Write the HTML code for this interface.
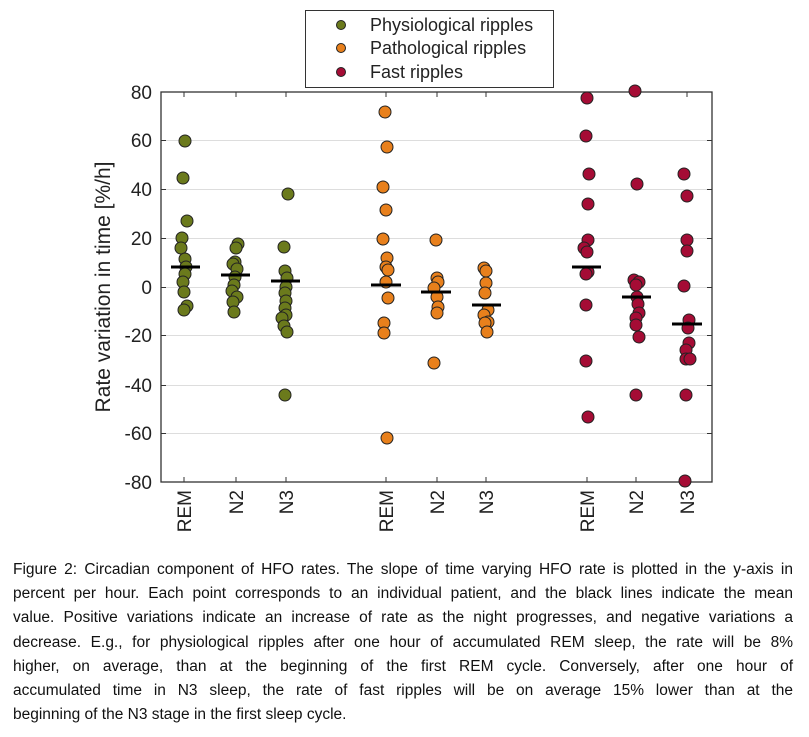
<!DOCTYPE html>
<html><head><meta charset="utf-8"><style>
body{margin:0;background:#fff;width:809px;height:737px;overflow:hidden;position:relative;font-family:"Liberation Sans",sans-serif}
.cap{position:absolute;left:13px;width:780px;top:558px;font-size:15.5px;line-height:24.2px;color:#111}
.cap div{text-align:justify;text-align-last:justify;white-space:nowrap;overflow:visible}
.cap div.l{text-align-last:left}
</style></head><body>
<svg width="809" height="560" style="position:absolute;left:0;top:0" font-family="Liberation Sans, sans-serif">
<g stroke="#ddd" stroke-width="1">
<line x1="161" x2="712" y1="140.5" y2="140.5"/><line x1="161" x2="712" y1="189.5" y2="189.5"/>
<line x1="161" x2="712" y1="238.5" y2="238.5"/><line x1="161" x2="712" y1="287.5" y2="287.5"/>
<line x1="161" x2="712" y1="335.5" y2="335.5"/><line x1="161" x2="712" y1="385.5" y2="385.5"/>
<line x1="161" x2="712" y1="433.5" y2="433.5"/>
</g>
<rect x="161" y="92" width="551" height="390" fill="none" stroke="#333" stroke-width="1.3"/>
<g stroke="#333" stroke-width="1">
<line x1="161" x2="166" y1="140.5" y2="140.5"/><line x1="161" x2="166" y1="189.5" y2="189.5"/><line x1="161" x2="166" y1="238.5" y2="238.5"/><line x1="161" x2="166" y1="287.5" y2="287.5"/><line x1="161" x2="166" y1="335.5" y2="335.5"/><line x1="161" x2="166" y1="385.5" y2="385.5"/><line x1="161" x2="166" y1="433.5" y2="433.5"/>
<line x1="707" x2="712" y1="140.5" y2="140.5"/><line x1="707" x2="712" y1="189.5" y2="189.5"/><line x1="707" x2="712" y1="238.5" y2="238.5"/><line x1="707" x2="712" y1="287.5" y2="287.5"/><line x1="707" x2="712" y1="335.5" y2="335.5"/><line x1="707" x2="712" y1="385.5" y2="385.5"/><line x1="707" x2="712" y1="433.5" y2="433.5"/>
<path d="M184,92v5M236,92v5M286,92v5M386,92v5M437,92v5M486,92v5M587,92v5M636,92v5M687,92v5M184,482v-5M236,482v-5M286,482v-5M386,482v-5M437,482v-5M486,482v-5M587,482v-5M636,482v-5M687,482v-5"/>
</g>
<g font-size="19" fill="#222" text-anchor="end">
<text x="152" y="99">80</text><text x="152" y="147">60</text><text x="152" y="196">40</text><text x="152" y="245">20</text><text x="152" y="294">0</text><text x="152" y="342">-20</text><text x="152" y="392">-40</text><text x="152" y="440">-60</text><text x="152" y="489">-80</text>
</g>
<text transform="translate(110,287) rotate(-90)" font-size="21" fill="#222" text-anchor="middle">Rate variation in time [%/h]</text>
<g font-size="19" fill="#222" text-anchor="end">
<text transform="translate(191,490) rotate(-90)">REM</text><text transform="translate(243,490) rotate(-90)">N2</text><text transform="translate(293,490) rotate(-90)">N3</text>
<text transform="translate(393,490) rotate(-90)">REM</text><text transform="translate(444,490) rotate(-90)">N2</text><text transform="translate(493,490) rotate(-90)">N3</text>
<text transform="translate(594,490) rotate(-90)">REM</text><text transform="translate(643,490) rotate(-90)">N2</text><text transform="translate(694,490) rotate(-90)">N3</text>
</g>
<g stroke="#222" stroke-width="1" fill="#6b7a1c">
<circle cx="185" cy="141" r="6"/><circle cx="183" cy="178" r="6"/><circle cx="187" cy="221" r="6"/><circle cx="182" cy="238" r="6"/><circle cx="181" cy="248" r="6"/><circle cx="185" cy="259" r="6"/><circle cx="186" cy="267" r="6"/><circle cx="185" cy="274" r="6"/><circle cx="183" cy="282" r="6"/><circle cx="184" cy="292" r="6"/><circle cx="187" cy="306" r="6"/><circle cx="184" cy="310" r="6"/>
<circle cx="238" cy="244" r="6"/><circle cx="236" cy="248" r="6"/><circle cx="235" cy="262" r="6"/><circle cx="233" cy="264" r="6"/><circle cx="237" cy="269" r="6"/><circle cx="235" cy="277" r="6"/><circle cx="234" cy="285" r="6"/><circle cx="232" cy="291" r="6"/><circle cx="237" cy="297" r="6"/><circle cx="233" cy="302" r="6"/><circle cx="234" cy="312" r="6"/>
<circle cx="288" cy="194" r="6"/><circle cx="284" cy="247" r="6"/><circle cx="285" cy="271" r="6"/><circle cx="287" cy="278" r="6"/><circle cx="286" cy="287" r="6"/><circle cx="285" cy="293" r="6"/><circle cx="286" cy="301" r="6"/><circle cx="285" cy="308" r="6"/><circle cx="286" cy="315" r="6"/><circle cx="282" cy="318" r="6"/><circle cx="284" cy="326" r="6"/><circle cx="287" cy="332" r="6"/><circle cx="285" cy="395" r="6"/>
</g>
<g stroke="#222" stroke-width="1" fill="#e8801c">
<circle cx="385" cy="112" r="6"/><circle cx="387" cy="147" r="6"/><circle cx="383" cy="187" r="6"/><circle cx="386" cy="210" r="6"/><circle cx="383" cy="239" r="6"/><circle cx="387" cy="258" r="6"/><circle cx="386" cy="267" r="6"/><circle cx="388" cy="270" r="6"/><circle cx="386" cy="282" r="6"/><circle cx="388" cy="298" r="6"/><circle cx="384" cy="323" r="6"/><circle cx="384" cy="333" r="6"/><circle cx="387" cy="438" r="6"/>
<circle cx="436" cy="240" r="6"/><circle cx="437" cy="278" r="6"/><circle cx="438" cy="282" r="6"/><circle cx="434" cy="288" r="6"/><circle cx="437" cy="297" r="6"/><circle cx="438" cy="307" r="6"/><circle cx="437" cy="313" r="6"/><circle cx="434" cy="363" r="6"/>
<circle cx="484" cy="268" r="6"/><circle cx="486" cy="271" r="6"/><circle cx="486" cy="283" r="6"/><circle cx="485" cy="293" r="6"/><circle cx="488" cy="310" r="6"/><circle cx="484" cy="315" r="6"/><circle cx="488" cy="322" r="6"/><circle cx="485" cy="323" r="6"/><circle cx="487" cy="332" r="6"/>
</g>
<g stroke="#222" stroke-width="1" fill="#a50c35">
<circle cx="587" cy="98" r="6"/><circle cx="586" cy="136" r="6"/><circle cx="589" cy="174" r="6"/><circle cx="588" cy="204" r="6"/><circle cx="588" cy="240" r="6"/><circle cx="584" cy="248" r="6"/><circle cx="587" cy="252" r="6"/><circle cx="588" cy="272" r="6"/><circle cx="586" cy="274" r="6"/><circle cx="586" cy="305" r="6"/><circle cx="586" cy="361" r="6"/><circle cx="588" cy="417" r="6"/>
<circle cx="635" cy="91" r="6"/><circle cx="637" cy="184" r="6"/><circle cx="634" cy="280" r="6"/><circle cx="639" cy="282" r="6"/><circle cx="636" cy="285" r="6"/><circle cx="637" cy="297" r="6"/><circle cx="638" cy="304" r="6"/><circle cx="639" cy="313" r="6"/><circle cx="636" cy="318" r="6"/><circle cx="636" cy="325" r="6"/><circle cx="639" cy="337" r="6"/><circle cx="636" cy="395" r="6"/>
<circle cx="684" cy="174" r="6"/><circle cx="687" cy="196" r="6"/><circle cx="687" cy="240" r="6"/><circle cx="687" cy="251" r="6"/><circle cx="684" cy="286" r="6"/><circle cx="689" cy="320" r="6"/><circle cx="688" cy="328" r="6"/><circle cx="689" cy="343" r="6"/><circle cx="686" cy="350" r="6"/><circle cx="686" cy="359" r="6"/><circle cx="690" cy="359" r="6"/><circle cx="686" cy="395" r="6"/><circle cx="685" cy="481" r="6"/>
</g>
<g stroke="#000" stroke-width="3">
<line x1="171" x2="200" y1="267" y2="267"/><line x1="221" x2="250" y1="275" y2="275"/><line x1="271" x2="300" y1="281" y2="281"/>
<line x1="371" x2="401" y1="285" y2="285"/><line x1="421" x2="451" y1="292" y2="292"/><line x1="472" x2="501" y1="305" y2="305"/>
<line x1="572" x2="601" y1="267" y2="267"/><line x1="622" x2="651" y1="297" y2="297"/><line x1="672" x2="702" y1="324" y2="324"/>
</g>
<rect x="305.5" y="10.5" width="248" height="77" fill="#fff" stroke="#333" stroke-width="1"/>
<g stroke="#222" stroke-width="1"><circle cx="341" cy="25" r="4.5" fill="#6b7a1c"/><circle cx="341" cy="48" r="4.5" fill="#e8801c"/><circle cx="341" cy="72" r="4.5" fill="#a50c35"/></g>
<g font-size="18" fill="#222"><text x="370" y="31">Physiological ripples</text><text x="370" y="54">Pathological ripples</text><text x="370" y="78">Fast ripples</text></g>
</svg>
<div class="cap">
<div>Figure 2: Circadian component of HFO rates. The slope of time varying HFO rate is plotted in the y-axis in</div>
<div>percent per hour. Each point corresponds to an individual patient, and the black lines indicate the mean</div>
<div>value. Positive variations indicate an increase of rate as the night progresses, and negative variations a</div>
<div>decrease. E.g., for physiological ripples after one hour of accumulated REM sleep, the rate will be 8%</div>
<div>higher, on average, than at the beginning of the first REM cycle. Conversely, after one hour of</div>
<div>accumulated time in N3 sleep, the rate of fast ripples will be on average 15% lower than at the</div>
<div class="l">beginning of the N3 stage in the first sleep cycle.</div>
</div>
</body></html>
